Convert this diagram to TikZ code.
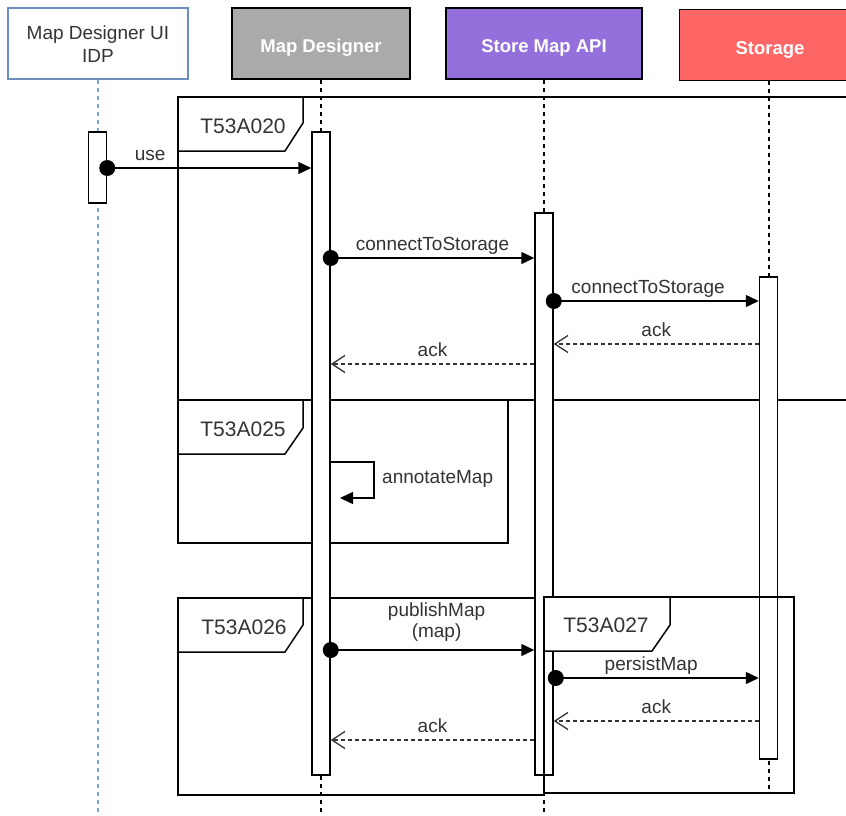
\documentclass[tikz,border=0pt]{standalone}
\usepackage{fontspec}
\setmainfont{Liberation Sans}
\usetikzlibrary{arrows.meta}

\definecolor{ink}{HTML}{333333}
\definecolor{uiblue}{HTML}{6C8EBF}
\definecolor{uidash}{HTML}{7EA6E0}
\definecolor{mdgray}{HTML}{AAAAAA}
\definecolor{apipurple}{HTML}{9370DB}
\definecolor{storered}{HTML}{FF6666}

\begin{document}
\begin{tikzpicture}[x=1pt,y=-1pt,
  head/.style={draw=black, line width=1.5pt, minimum width=178pt, minimum height=71pt,
    inner sep=0pt},
  headtext/.style={font=\fontsize{18.5}{22}\selectfont\bfseries, text=white, inner sep=0pt},
  lifeline/.style={draw=black, line width=1.3pt, dash pattern=on 4pt off 4pt},
  act/.style={draw=black, fill=white, line width=1.5pt, minimum width=18pt, inner sep=0pt},
  fragbox/.style={draw=black, line width=1.5pt},
  fragtag/.style={draw=black, fill=white, line width=1.5pt},
  tagtext/.style={font=\fontsize{21}{24}\selectfont, text=ink, inner sep=0pt},
  msgcall/.style={draw=black, line width=1.5pt, -{Triangle[length=13pt,width=12pt]}},
  msgreply/.style={draw=ink, line width=1.3pt, dash pattern=on 4pt off 3pt,
    -{Straight Barb[length=13pt,width=17pt]}},
  lbl/.style={font=\fontsize{19}{21}\selectfont, text=ink, anchor=base, yshift=8pt, inner sep=0pt},
  dot/.style={fill=black},
]
% page area
\clip (0,0) rectangle (846,816);
\fill[white] (0,0) rectangle (846,816);

% participants
\node[head, draw=uiblue, fill=white, minimum width=180pt] (ui) at (98,43.5) {};
\node[font=\fontsize{19}{23}\selectfont, text=ink, inner sep=0pt, align=center,
  anchor=base] (uitext) at (98,63) {Map Designer UI\\IDP};
\node[head, fill=mdgray] (md) at (321,43.5) {};
\node[headtext, anchor=base] (mdtext) at (321,53) {Map Designer};
\node[head, fill=apipurple, minimum width=196pt] (api) at (544,43.5) {};
\node[headtext, anchor=base] (apitext) at (544,53) {Store Map API};
\node[head, fill=storered, minimum width=180pt] (st) at (769.5,45) {};
\node[headtext, anchor=base] (sttext) at (770,54.5) {Storage};

% lifelines
\draw[lifeline, draw=uidash] (ui.south) -- (ui.south |- 0,812);
\draw[lifeline] (md.south) -- (md.south |- 0,812);
\draw[lifeline] (api.south) -- (api.south |- 0,812);
\draw[lifeline] (st.south -| 769,0) -- (769,793);

% combined fragments below the activations
\draw[fragbox] (178,97) rectangle (880,400);
\draw[fragtag] (178,97) -- (303,97) -- (303,123) -- (285,151) -- (178,151) -- cycle;
\node[tagtext] (t020) at (243,126) {T53A020};

\draw[fragbox] (178,400) rectangle (508,543);
\draw[fragtag] (178,400) -- (303,400) -- (303,428) -- (285,454) -- (178,454) -- cycle;
\node[tagtext] (t025) at (243,429) {T53A025};

\draw[fragbox] (178,598) rectangle (544,795);
\draw[fragtag] (178,598) -- (303,598) -- (303,625) -- (285,652) -- (178,652) -- cycle;
\node[tagtext] (t026) at (244,627) {T53A026};

% activation bars
\node[act, minimum height=71pt] (uiact) at (97.5,167.5) {};
\node[act, minimum height=643pt] (mdact) at (321,453.5) {};
\node[act, minimum height=562pt] (apiact) at (544,494) {};
\node[act, minimum height=482pt] (stact) at (768.5,518) {};

% fragment drawn over the activation bars
\draw[fragbox] (544,597) rectangle (794,793);
\draw[fragtag] (544,597) -- (670,597) -- (670,625) -- (652,651) -- (544,651) -- cycle;
\node[tagtext] (t027) at (606,625) {T53A027};

% messages
\draw[msgcall] (uiact.east |- 0,168) -- node[lbl, pos=.21] (luse) {use} (mdact.west |- 0,168);
\fill[dot] (uiact.east |- 0,168) circle (8pt);

\draw[msgcall] (mdact.east |- 0,258) -- node[lbl] (lconn1) {connectToStorage} (apiact.west |- 0,258);
\fill[dot] (mdact.east |- 0,258) circle (8pt);

\draw[msgcall] (apiact.east |- 0,301) -- node[lbl, pos=.46] (lconn2) {connectToStorage} (stact.west |- 0,301);
\fill[dot] (apiact.east |- 0,301) circle (8pt);

\draw[msgreply] (stact.west |- 0,344) -- node[lbl] (lack1) {ack} (apiact.east |- 0,344);
\draw[msgreply] (apiact.west |- 0,364) -- node[lbl] (lack2) {ack} (mdact.east |- 0,364);

\coordinate (loopcorner) at (374,498);
\coordinate (loopend) at (340,498);
\draw[msgcall] (mdact.east |- 0,462) -| (loopcorner) -- (loopend);
\node[font=\fontsize{19}{21}\selectfont, text=ink, inner sep=0pt, anchor=west] (lannot) at (382,479) {annotateMap};

\draw[msgcall] (mdact.east |- 0,650) -- node[font=\fontsize{19}{21}\selectfont, text=ink,
  inner sep=0pt, anchor=south, yshift=8pt, pos=.52, align=center] (lpub) {publishMap\\(map)} (apiact.west |- 0,650);
\fill[dot] (mdact.east |- 0,650) circle (8pt);

\draw[msgcall] ([xshift=2pt]apiact.east |- 0,678) -- node[lbl, pos=.47] (lpersist) {persistMap} (stact.west |- 0,678);
\fill[dot] ([xshift=2pt]apiact.east |- 0,678) circle (8pt);

\draw[msgreply] (stact.west |- 0,721) -- node[lbl] (lack3) {ack} (apiact.east |- 0,721);
\draw[msgreply] (apiact.west |- 0,740) -- node[lbl] (lack4) {ack} (mdact.east |- 0,740);
\end{tikzpicture}
\end{document}
